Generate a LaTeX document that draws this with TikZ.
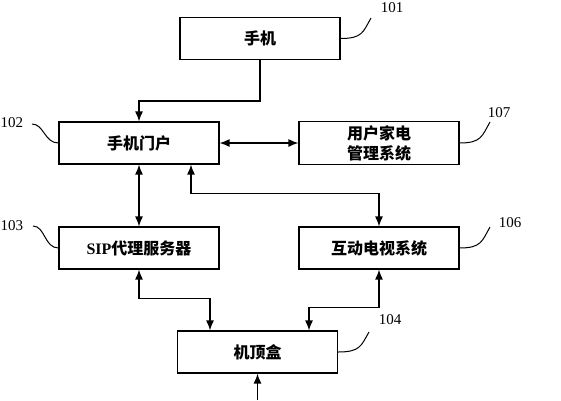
\documentclass[tikz,border=0pt]{standalone}
\usepackage{fontspec}
\setmainfont{Liberation Serif}
\newfontfamily\cjk{Noto Sans CJK SC}
\usetikzlibrary{arrows.meta}
\tikzstyle{block} = [rectangle, minimum width=160pt, minimum height=42pt, text centered, draw=black, line width=1.1pt, font=\cjk\bfseries\fontsize{16}{19}\selectfont]
\tikzstyle{arrow} = [line width=1.3pt,-{Latex[length=10pt,width=8pt]}]
\tikzstyle{biarrow} = [line width=1.3pt,{Latex[length=10pt,width=8pt]}-{Latex[length=10pt,width=8pt]}]
\tikzstyle{lead} = [line width=1pt]
\tikzstyle{num} = [font=\fontsize{15}{17}\selectfont]

\begin{document}
\begin{tikzpicture}[x=1pt,y=-1pt,node distance=105pt]
        \useasboundingbox (0,0) rectangle (561,400);
        \node (phone) [block] at (260,38.5) {手机};
        \node (portal) [block] at (139,143) {手机门户};
        \node (sip) [block, below of = portal] {{\rmfamily\bfseries SIP}代理服务器};
        \node (home) [block, right of = portal, node distance=240pt, align=center, font=\cjk\bfseries\fontsize{16}{20}\selectfont] {用户家电\\管理系统};
        \node (tv) [block, below of = home] {互动电视系统};
        \node (stb) [block] at (257.5,352) {机顶盒};
        \coordinate (input) at (257.5,400);

        \draw [arrow] (phone.south) -- ++(0,41) -| (portal.north);
        \draw [biarrow] (portal) -- (home);
        \draw [biarrow] (portal) -- (sip);
        \draw [biarrow] ([xshift=52pt]portal.south) -- ++(0,29) -| (tv.north);
        \draw [biarrow] (sip.south) -- ++(0,29) -| ([xshift=-47.5pt]stb.north);
        \draw [biarrow] (tv.south) -- ++(0,38) -| ([xshift=51.5pt]stb.north);
        \draw [arrow] (input) -- (stb);

        % leaders
        \coordinate (l101) at (371,18);
        \coordinate (l102) at (32,124);
        \coordinate (l103) at (33,226);
        \coordinate (l104) at (369,332);
        \coordinate (l106) at (490,227);
        \coordinate (l107) at (490,122);
        \draw [lead] (phone.east) .. controls +(22,0) and +(-8,14) .. (l101);
        \draw [lead] (l102) .. controls +(12,0) and +(-14,0) .. (portal.west);
        \draw [lead] (l103) .. controls +(12,0) and +(-14,0) .. (sip.west);
        \draw [lead] (stb.east) .. controls +(22,0) and +(-8,14) .. (l104);
        \draw [lead] (tv.east) .. controls +(22,0) and +(-8,14) .. (l106);
        \draw [lead] (home.east) .. controls +(22,0) and +(-8,14) .. (l107);
        \node (n101) [num] at (392,8) {101};
        \node (n102) [num] at (12,123) {102};
        \node (n103) [num] at (12,226) {103};
        \node (n104) [num] at (390,320) {104};
        \node (n106) [num] at (510,223) {106};
        \node (n107) [num] at (499,113) {107};
\end{tikzpicture}
\end{document}
